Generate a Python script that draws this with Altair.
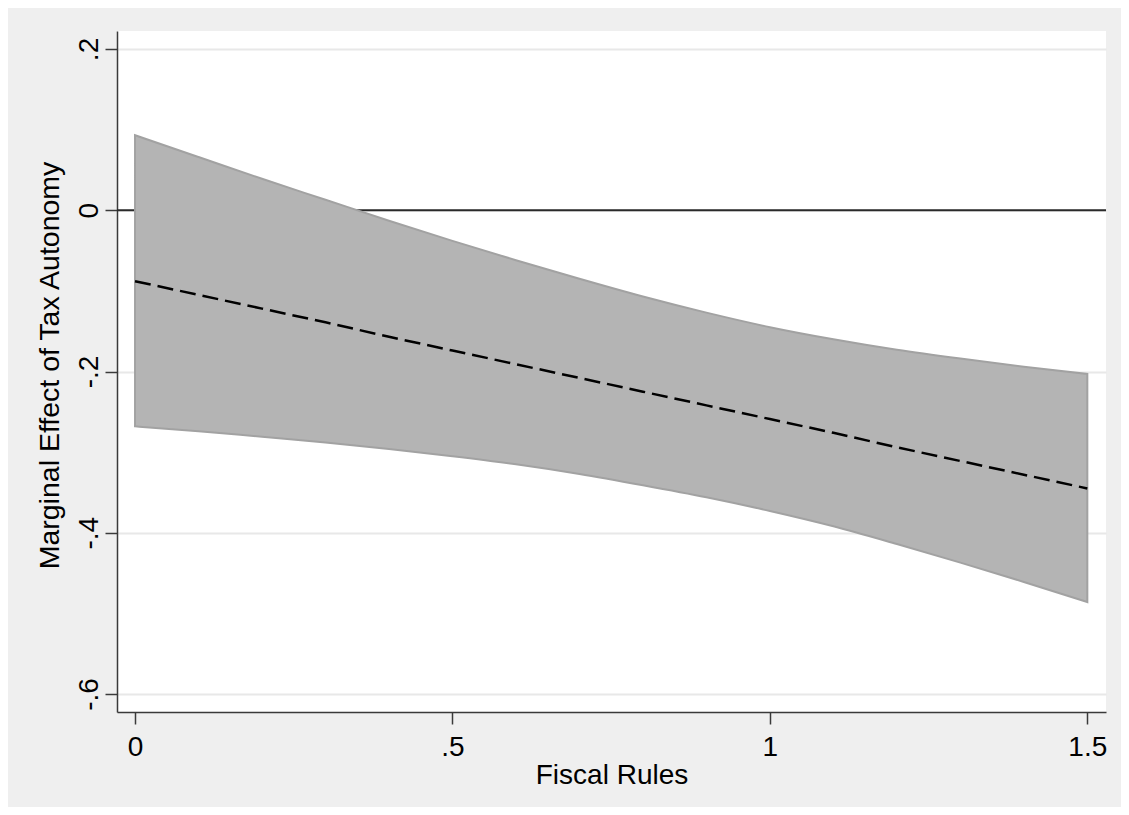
import altair as alt
import pandas as pd

# ---- data ----
fiscal_rules = [0.0, 0.1, 0.2, 0.3, 0.4, 0.5, 0.6, 0.7, 0.8, 0.9, 1.0, 1.1, 1.2, 1.3, 1.4, 1.5]
marginal_effect = [-0.088, -0.105, -0.122, -0.139, -0.157, -0.174, -0.191, -0.208,
                   -0.225, -0.242, -0.259, -0.276, -0.294, -0.311, -0.328, -0.345]
ci_upper = [0.093, 0.066, 0.039, 0.013, -0.013, -0.038, -0.062, -0.085,
            -0.107, -0.127, -0.145, -0.160, -0.173, -0.184, -0.194, -0.203]
ci_lower = [-0.268, -0.274, -0.281, -0.288, -0.296, -0.305, -0.315, -0.327,
            -0.341, -0.356, -0.373, -0.392, -0.414, -0.437, -0.461, -0.486]
zero_line = [0.0]

x_tick_values = [0, 0.5, 1, 1.5]
x_tick_labels = ["0", ".5", "1", "1.5"]
y_tick_values = [-0.6, -0.4, -0.2, 0, 0.2]
y_tick_labels = ["-.6", "-.4", "-.2", "0", ".2"]

x_title = "Fiscal Rules"
y_title = "Marginal Effect of Tax Autonomy"

df = pd.DataFrame({
    "x": fiscal_rules,
    "me": marginal_effect,
    "hi": ci_upper,
    "lo": ci_lower,
})
zero_df = pd.DataFrame({"y": zero_line})


def label_expr(values, labels):
    parts = [f"abs(datum.value - ({v})) < 1e-9 ? '{l}'" for v, l in zip(values, labels)]
    return " : ".join(parts) + " : ''"


FONT = "Liberation Sans"
AXIS_COLOR = "#3a3a3a"
PLOT_W = 989
PLOT_H = 681

x_scale = alt.Scale(domain=[-0.0284, 1.5294], nice=False, zero=False)
y_scale = alt.Scale(domain=[-0.6223, 0.2223], nice=False, zero=False)

x_axis = alt.Axis(
    values=x_tick_values,
    labelExpr=label_expr(x_tick_values, x_tick_labels),
    title=x_title,
    grid=False,
    tickSize=12, tickWidth=1.5, tickColor=AXIS_COLOR,
    domainColor=AXIS_COLOR, domainWidth=1.5,
    labelFont=FONT, labelFontSize=28, labelColor="#000000",
    labelPadding=9, labelFlush=False, labelOverlap=False,
    titleFont=FONT, titleFontSize=28, titleFontWeight="normal", titleColor="#000000",
    titleX=PLOT_W / 2, titleY=71, titleBaseline="alphabetic", titleAlign="center",
)
y_axis = alt.Axis(
    values=y_tick_values,
    labelExpr=label_expr(y_tick_values, y_tick_labels),
    title=y_title,
    grid=True, gridColor="#E8E8E8", gridWidth=2,
    tickSize=12, tickWidth=1.5, tickColor=AXIS_COLOR,
    domainColor=AXIS_COLOR, domainWidth=1.5,
    labelFont=FONT, labelFontSize=28, labelColor="#000000",
    labelAngle=270, labelAlign="center", labelBaseline="alphabetic",
    labelPadding=8, labelFlush=False, labelOverlap=False,
    titleFont=FONT, titleFontSize=28.5, titleFontWeight="normal", titleColor="#000000",
    titleAngle=270, titleX=-59, titleY=334, titleBaseline="alphabetic", titleAlign="center",
)

rule = alt.Chart(zero_df).mark_rule(color="#2a2a2a", strokeWidth=2).encode(
    y=alt.Y("y:Q", scale=y_scale, axis=y_axis)
)

base = alt.Chart(df)
band = base.mark_area(
    color="#B4B4B4", stroke="#A2A2A2", strokeWidth=2, opacity=1, interpolate="monotone"
).encode(
    x=alt.X("x:Q", scale=x_scale, axis=x_axis),
    y=alt.Y("lo:Q", scale=y_scale, axis=y_axis),
    y2="hi:Q",
)
line = base.mark_line(color="#000000", strokeWidth=2.5, strokeDash=[16, 7]).encode(
    x=alt.X("x:Q", scale=x_scale, axis=x_axis),
    y=alt.Y("me:Q", scale=y_scale, axis=y_axis),
)

chart = alt.layer(rule, band, line).properties(
    width=PLOT_W,
    height=PLOT_H,
    autosize=alt.AutoSizeParams(type="none"),
    padding={"left": 109, "top": 23, "right": 15, "bottom": 95},
    background="#EFEFEF",
).configure_view(fill="white", strokeWidth=0)

chart.save("out.html", embed_options={"renderer": "svg", "actions": False})
